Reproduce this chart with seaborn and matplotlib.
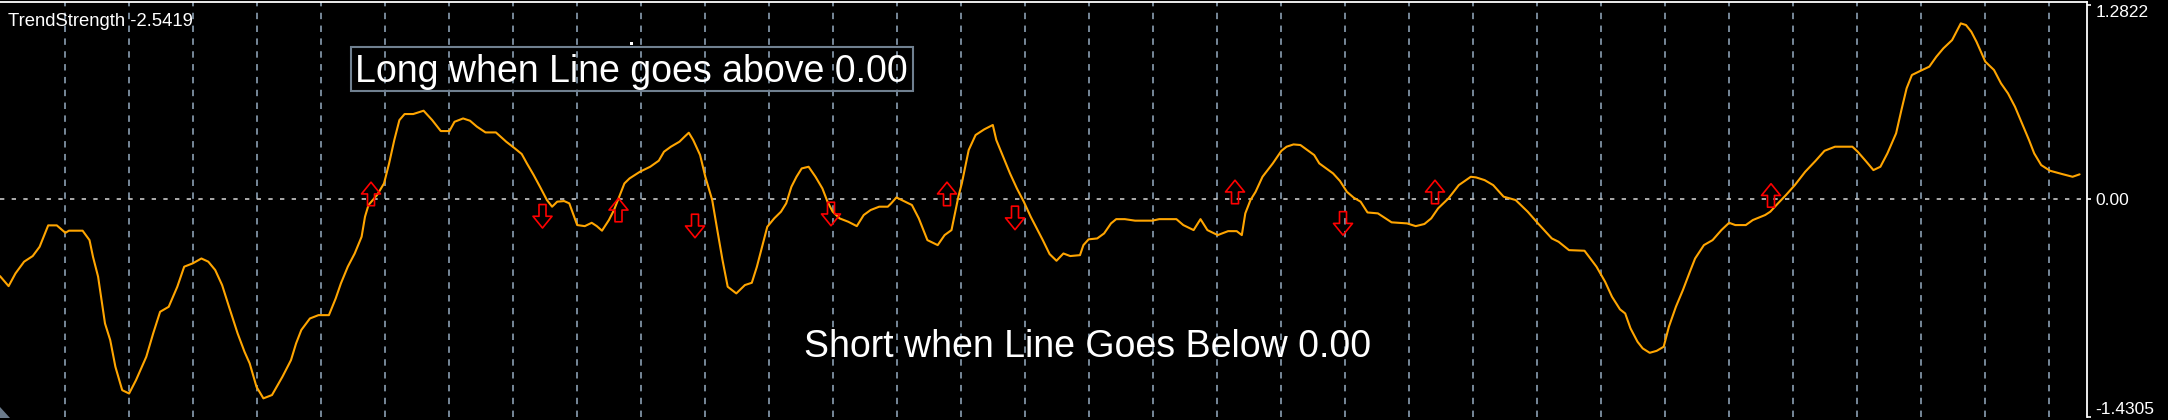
import matplotlib
matplotlib.use("Agg")
import matplotlib.pyplot as plt
import seaborn as sns
import numpy as np
from matplotlib.path import Path
from matplotlib.patches import Rectangle, Polygon

# ---------------- data ----------------
t = [0, 8.6, 15.5, 24.1, 32.7, 39.6, 48.2, 56.8, 65.4, 68.9, 82.6, 89.5, 93.0, 98.1, 105.0,
     110.2, 115.4, 122.2, 129.1, 136.0, 146.3, 153.2, 160.1, 168.7, 177.3, 184.2, 192.8, 201.4,
     208.3, 215.2, 222.1, 229.0, 237.6, 244.5, 249.7, 256.5, 263.4, 272.0, 282.4, 291.0, 296.1,
     301.3, 309.9, 318.5, 328.9, 335.7, 340.9, 347.8, 354.7, 361.6, 365.0, 368.5, 377.1, 384.0,
     389.1, 394.3, 399.4, 404.6, 413.2, 423.6, 432.2, 440.8, 449.4, 454.5, 463.1, 470.0, 476.9,
     485.5, 495.9, 506.2, 514.8, 521.7, 526.9, 533.7, 540.0,
     546.9, 552.1, 557.2, 564.1, 569.3, 577.2, 584.8, 591.7, 596.8, 602.0, 608.9, 614.0, 619.2,
     624.4, 629.5, 639.9, 650.2, 658.8, 664.0, 670.9, 679.5, 684.6, 688.8, 693.2, 700.1, 705.3,
     712.2, 717.3, 722.5, 727.7, 736.3, 744.9, 751.8, 756.9, 762.1, 767.3, 774.2, 781.0, 786.2,
     791.4, 796.5, 801.7, 808.6, 815.5, 822.4, 827.5, 832.7, 839.6, 848.2, 856.8, 863.7, 870.6,
     879.2, 887.8, 891.2, 896.4, 905.0, 911.9, 918.8, 927.4, 937.7, 944.6, 951.5, 954.9, 958.4,
     961.8, 968.7, 975.6, 984.2, 992.8, 996.3, 1003.2, 1010.0, 1016.9, 1023.8, 1030.7, 1035.9,
     1042.8, 1049.6, 1056.5, 1063.4, 1070.2, 1080.0,
     1083.4, 1088.6, 1097.2, 1104.1, 1111.0, 1116.2, 1124.8, 1135.1, 1152.3, 1159.2, 1176.4,
     1183.3, 1193.6, 1200.5, 1207.4, 1217.7, 1228.1, 1236.7, 1241.8, 1245.3, 1250.5, 1255.6,
     1262.5, 1272.8, 1281.4, 1286.6, 1293.5, 1300.4, 1307.3, 1314.2, 1319.3, 1326.2, 1333.1,
     1340.0, 1346.9, 1353.8, 1360.6, 1367.5, 1377.9, 1391.6, 1407.1, 1415.7, 1424.4, 1431.2,
     1438.1, 1448.5, 1458.8, 1470.8, 1476.0, 1484.6, 1493.2, 1503.6, 1515.6, 1527.7, 1538.0,
     1551.8, 1558.6, 1569.0, 1584.5, 1596.5, 1605.1, 1612.0, 1620.0,
     1625.2, 1630.5, 1637.5, 1642.7, 1649.7, 1656.7, 1663.7, 1668.9, 1675.9, 1682.9, 1689.9,
     1695.1, 1703.9, 1712.6, 1721.4, 1729.1, 1735.3, 1745.8, 1752.8, 1765.1, 1770.3, 1777.3,
     1786.0, 1794.8, 1805.2, 1815.7, 1824.5, 1835.0, 1852.4, 1857.7, 1866.4, 1873.4, 1880.4,
     1887.4, 1896.1, 1901.4, 1906.6, 1911.9, 1920.6, 1929.3, 1936.3, 1943.3, 1952.1, 1960.8,
     1966.0, 1971.3, 1976.5, 1985.3, 1994.0, 2001.0, 2008.0, 2015.0, 2022.0, 2029.0, 2034.2,
     2041.2, 2049.9, 2062.1, 2072.6, 2079.6]

trend = [-0.505, -0.571, -0.487, -0.410, -0.373, -0.312, -0.171, -0.171, -0.220, -0.206, -0.206,
         -0.268, -0.378, -0.509, -0.817, -0.926, -1.102, -1.256, -1.278, -1.190, -1.036, -0.882,
         -0.740, -0.707, -0.575, -0.443, -0.421, -0.389, -0.410, -0.465, -0.564, -0.707, -0.882,
         -1.003, -1.080, -1.234, -1.310, -1.288, -1.168, -1.058, -0.948, -0.860, -0.784, -0.762,
         -0.762, -0.652, -0.553, -0.443, -0.356, -0.246, -0.114, -0.037, 0.029, 0.105, 0.237,
         0.391, 0.522, 0.562, 0.562, 0.584, 0.522, 0.450, 0.450, 0.511, 0.533, 0.518, 0.479,
         0.441, 0.441, 0.380, 0.336, 0.299, 0.237, 0.160, 0.083,
         -0.004, -0.048, -0.015, -0.011, -0.026, -0.169, -0.176, -0.154, -0.176, -0.206, -0.136,
         -0.070, 0.018, 0.105, 0.138, 0.182, 0.215, 0.255, 0.314, 0.347, 0.380, 0.413, 0.439,
         0.391, 0.292, 0.149, -0.004, -0.202, -0.399, -0.575, -0.619, -0.564, -0.549, -0.443,
         -0.312, -0.180, -0.125, -0.081, -0.026, 0.083, 0.149, 0.204, 0.215, 0.149, 0.072,
         -0.015, -0.081, -0.125, -0.147, -0.176, -0.103, -0.070, -0.048, -0.048, -0.026, 0.013,
         -0.015, -0.037, -0.125, -0.268, -0.301, -0.235, -0.202, -0.092, 0.018, 0.105, 0.325,
         0.424, 0.461, 0.490, 0.391, 0.281, 0.171, 0.072, -0.015, -0.114, -0.180, -0.268,
         -0.360, -0.404, -0.356, -0.373, -0.367,
         -0.301, -0.263, -0.257, -0.224, -0.158, -0.130, -0.130, -0.140, -0.140, -0.130, -0.130,
         -0.169, -0.202, -0.130, -0.202, -0.235, -0.209, -0.209, -0.235, -0.092, -0.004, 0.050,
         0.149, 0.237, 0.320, 0.347, 0.362, 0.358, 0.325, 0.292, 0.237, 0.204, 0.171, 0.121,
         0.050, 0.011, -0.015, -0.086, -0.092, -0.151, -0.158, -0.176, -0.162, -0.125, -0.059,
         0.007, 0.094, 0.149, 0.145, 0.127, 0.094, 0.018, -0.004, -0.081, -0.158, -0.257,
         -0.279, -0.334, -0.338, -0.443, -0.542, -0.641, -0.724,
         -0.751, -0.849, -0.937, -0.981, -1.010, -0.997, -0.970, -0.838, -0.707, -0.597, -0.476,
         -0.389, -0.301, -0.268, -0.202, -0.154, -0.169, -0.169, -0.136, -0.103, -0.081, -0.031,
         0.029, 0.094, 0.182, 0.255, 0.320, 0.347, 0.347, 0.314, 0.248, 0.193, 0.215, 0.303,
         0.435, 0.588, 0.731, 0.819, 0.847, 0.874, 0.939, 0.994, 1.049, 1.159, 1.148, 1.104,
         1.038, 0.907, 0.852, 0.764, 0.698, 0.610, 0.500, 0.391, 0.303, 0.226, 0.189, 0.167,
         0.149, 0.165]

long_t = [371, 618.5, 947, 1235, 1435, 1771]
long_v = [0.036, -0.070, 0.036, 0.049, 0.049, 0.026]
short_t = [542.5, 695, 831, 1015, 1343]
short_v = [-0.111, -0.175, -0.096, -0.122, -0.158]

y_ticks = [1.2822, 0.0, -1.4305]
y_labels = ["1.2822", "0.00", "-1.4305"]
title_label = "TrendStrength -2.5419"
long_note = "Long when Line goes above 0.00"
short_note = "Short when Line Goes Below 0.00"

n = min(len(t), len(trend))
t, trend = t[:n], trend[:n]

# ---------------- style ----------------
sns.set_theme(style="dark")
plt.rcParams["font.family"] = ["Liberation Sans", "DejaVu Sans"]
plt.rcParams["axes.unicode_minus"] = False

W, H = 2168, 420
fig = plt.figure(figsize=(W / 100, H / 100), dpi=100, facecolor="black")
ax = fig.add_axes([0, 1 - 417 / H, 2087 / W, (417 - 1.7) / H])
ax.set_facecolor("black")

ax.set_xlim(0, 2087)
ax.set_ylim(-1.4327, 1.3017)

# vertical grid
grid_x = np.arange(64.7, 2087, 64.0)
ax.set_xticks(grid_x)
ax.tick_params(axis="x", length=0, labelbottom=False)
ax.grid(False)
for gx in grid_x:
    ax.axvline(gx, color="#778899", lw=1.4, ls=(0, (3.3, 3.3)), zorder=1)

# zero line
ax.axhline(0, color="#C8C8C8", lw=1.2, ls=(0, (2.6, 4.4)), zorder=1.5)

# indicator line
sns.lineplot(x=t, y=trend, color="#FFA500", lw=1.5, estimator=None, sort=False, ax=ax, zorder=2)

# arrows
up_verts = [(0, 11.75), (9.5, 0), (3.5, 0), (3.5, -11.75), (-3.5, -11.75), (-3.5, 0), (-9.5, 0), (0, 11.75)]
codes = [Path.MOVETO] + [Path.LINETO] * 6 + [Path.CLOSEPOLY]
up_path = Path(up_verts, codes)
down_path = Path([(x, -y) for x, y in up_verts], codes)
msize = (23.5 * 0.72) ** 2
sns.scatterplot(x=long_t, y=long_v, marker=up_path, s=msize, facecolor="none",
                edgecolor="#FF0000", linewidth=1.2, ax=ax, zorder=3)
sns.scatterplot(x=short_t, y=short_v, marker=down_path, s=msize, facecolor="none",
                edgecolor="#FF0000", linewidth=1.2, ax=ax, zorder=3)

# axes frame
for side in ["left", "bottom"]:
    ax.spines[side].set_visible(False)
for side in ["top", "right"]:
    ax.spines[side].set_visible(True)
    ax.spines[side].set_color("white")
    ax.spines[side].set_linewidth(1.3)

ax.yaxis.tick_right()
ax.set_yticks(y_ticks)
ax.set_yticklabels(y_labels)
ax.tick_params(axis="y", colors="white", length=3, width=1.2, labelsize=12.5, pad=3,
               left=False, right=True, labelleft=False, labelright=True)
labs = ax.get_yticklabels()
labs[0].set_va("top")
labs[2].set_va("bottom")
ax.set_xlabel("")
ax.set_ylabel("")
if ax.get_legend():
    ax.get_legend().remove()

# texts
fig.text(8 / W, 1 - 26 / H, title_label, color="white", fontsize=13.3, va="baseline", ha="left")
fig.add_artist(Rectangle((350.5 / W, 1 - 90.7 / H), (913 - 350.5) / W, 44 / H,
                         transform=fig.transFigure, fill=False, ec="#708090", lw=1.5))
fig.text(354.7 / W, 1 - 81.7 / H, long_note, color="white", fontsize=27, va="baseline", ha="left")
fig.text(804.5 / W, 1 - 357.3 / H, short_note, color="white", fontsize=27, va="baseline", ha="left")
fig.add_artist(Rectangle((630 / W, 1 - 45 / H), 3 / W, 3 / H, transform=fig.transFigure,
                         color="white", lw=0))
fig.add_artist(Polygon([(0, 1 - 407 / H), (0, 1 - 418 / H), (9.6 / W, 1 - 418 / H)],
                       closed=True, transform=fig.transFigure, color="#6B7B8C", lw=0))

fig.savefig("out.png", dpi=100, facecolor="black")
